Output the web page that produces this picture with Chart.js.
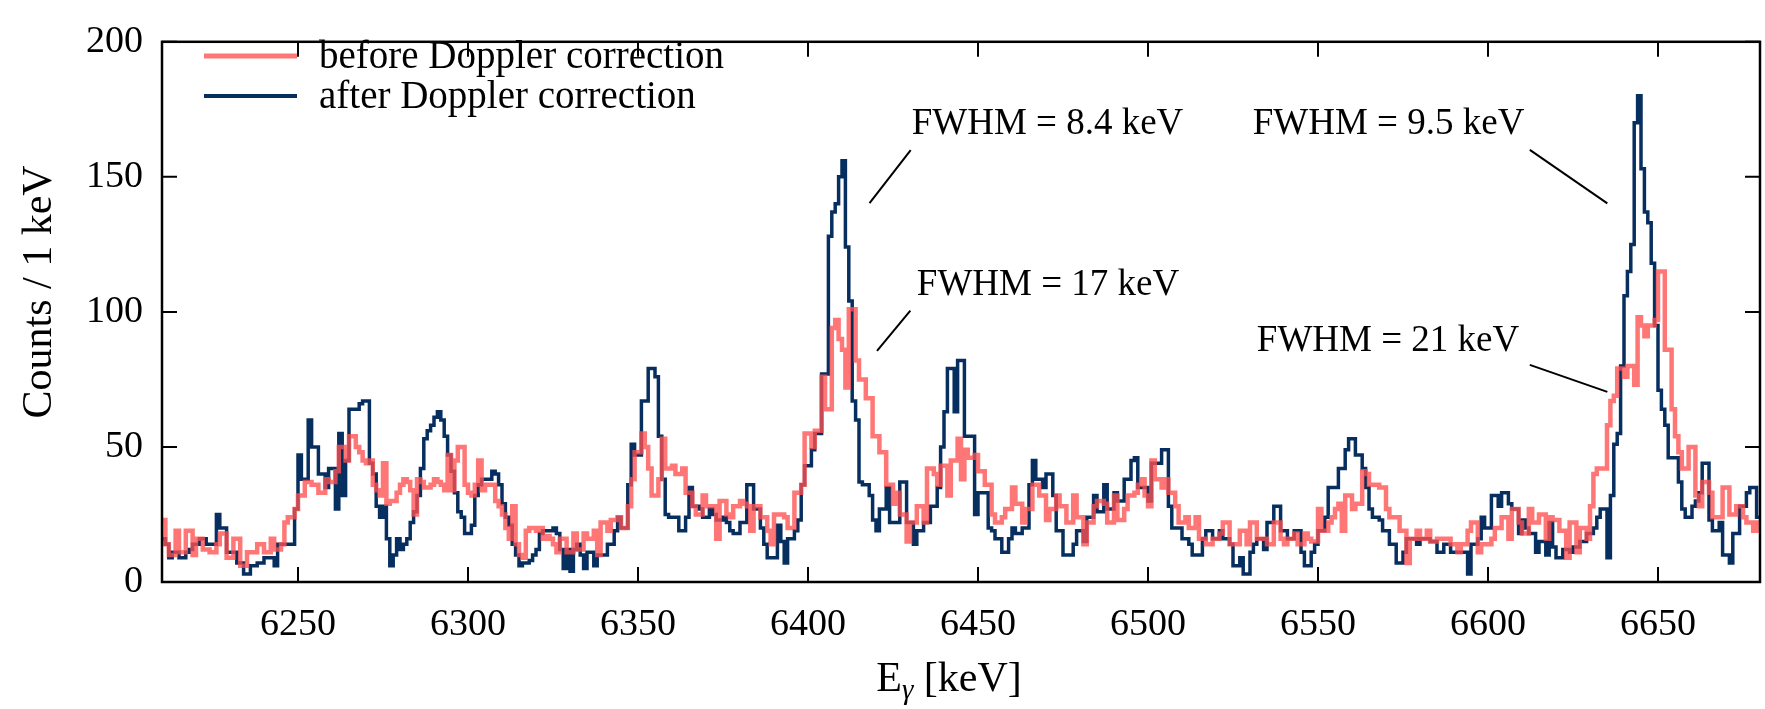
<!DOCTYPE html>
<html>
<head>
<meta charset="utf-8">
<script src="https://cdn.jsdelivr.net/npm/chart.js@4.4.1/dist/chart.umd.min.js"></script>
<style>
  html, body { margin: 0; padding: 0; background: #fff; }
  #wrap { width: 1765px; height: 709px; position: relative; }
</style>
</head>
<body>
<div id="wrap"><canvas id="spectrum"></canvas></div>
<script>
// spectrum, 1 keV bins starting at binStart
const binStart = 6210;

const beforeCounts = [
    23, 14, 10, 10, 19, 11, 11, 19, 19, 10,   // 6210
    16, 16, 12, 12, 11, 11, 14, 18, 18, 9,
    9, 16, 16, 6, 6, 11, 11, 11, 14, 14,
    11, 11, 16, 12, 12, 14, 22, 24, 24, 27,
    32, 32, 37, 37, 36, 36, 33, 33, 38, 37,   // 6250
    37, 41, 50, 50, 45, 54, 54, 50, 48, 45,
    44, 45, 36, 34, 32, 44, 29, 30, 30, 33,
    36, 38, 37, 34, 25, 38, 37, 35, 35, 36,
    38, 37, 36, 34, 47, 34, 45, 50, 50, 36,
    33, 32, 36, 45, 34, 36, 36, 36, 30, 28,   // 6300
    25, 20, 16, 28, 14, 10, 9, 19, 20, 20,
    19, 20, 16, 17, 16, 14, 11, 16, 16, 11,
    11, 18, 12, 12, 18, 16, 16, 19, 10, 22,
    22, 19, 23, 23, 24, 20, 20, 28, 38, 48,
    48, 55, 50, 42, 32, 32, 38, 53, 42, 42,   // 6350
    43, 40, 40, 42, 33, 33, 28, 25, 25, 32,
    28, 28, 28, 16, 30, 30, 25, 24, 28, 28,
    30, 29, 28, 19, 28, 28, 24, 24, 19, 14,
    25, 25, 25, 24, 20, 20, 33, 33, 36, 55,
    55, 50, 56, 56, 76, 64, 64, 94, 97, 90,   // 6400
    86, 72, 101, 101, 82, 75, 75, 68, 68, 54,
    54, 48, 48, 36, 36, 29, 33, 25, 25, 15,
    22, 22, 28, 28, 22, 42, 42, 40, 36, 43,
    43, 32, 45, 45, 53, 38, 49, 46, 46, 47,
    41, 41, 36, 36, 25, 22, 22, 24, 27, 27,   // 6450
    35, 29, 29, 22, 27, 27, 36, 36, 32, 32,
    23, 27, 27, 32, 28, 28, 22, 22, 32, 24,
    24, 14, 22, 22, 28, 30, 30, 29, 22, 22,
    32, 23, 23, 27, 32, 32, 33, 36, 38, 32,
    28, 45, 38, 38, 35, 38, 33, 33, 28, 22,   // 6500
    22, 24, 20, 20, 24, 16, 16, 14, 14, 16,
    16, 18, 22, 22, 14, 14, 14, 19, 19, 14,
    22, 22, 16, 16, 16, 14, 14, 22, 22, 16,
    14, 16, 16, 18, 14, 14, 18, 16, 15, 15,
    27, 19, 19, 22, 24, 27, 29, 19, 32, 32,   // 6550
    27, 29, 29, 41, 40, 36, 36, 36, 35, 35,
    27, 24, 24, 24, 19, 19, 7, 16, 16, 19,
    16, 16, 19, 15, 15, 16, 16, 16, 16, 14,
    14, 11, 14, 14, 19, 22, 22, 11, 14, 14,
    14, 16, 20, 20, 24, 24, 16, 27, 27, 22,   // 6600
    18, 18, 27, 22, 22, 25, 25, 16, 24, 23,
    23, 19, 19, 9, 22, 22, 11, 20, 20, 16,
    28, 40, 42, 42, 42, 58, 67, 69, 79, 79,
    76, 80, 80, 73, 98, 95, 91, 95, 95, 97,
    115, 115, 86, 86, 64, 54, 48, 42, 42, 50, // 6650
    50, 32, 28, 37, 37, 33, 24, 24, 24, 35,
    35, 25, 25, 28, 28, 24, 22, 22, 19, 22
];

const afterCounts = [
    16, 14, 9, 11, 11, 9, 9, 11, 12, 14,      // 6210
    14, 16, 16, 14, 14, 14, 25, 20, 20, 11,
    11, 11, 7, 7, 3, 3, 6, 6, 7, 7,
    9, 9, 9, 6, 14, 14, 14, 14, 14, 27,
    47, 38, 38, 60, 50, 50, 40, 40, 35, 42,   // 6250
    42, 27, 55, 32, 45, 64, 64, 64, 66, 67,
    67, 44, 40, 28, 24, 28, 16, 6, 10, 16,
    12, 14, 16, 22, 26, 32, 42, 53, 56, 58,
    61, 63, 60, 54, 47, 41, 33, 26, 24, 18,
    18, 21, 32, 36, 38, 38, 38, 41, 40, 36,   // 6300
    29, 24, 21, 14, 10, 6, 7, 7, 8, 10,
    12, 18, 19, 19, 19, 20, 18, 12, 5, 12,
    4, 12, 14, 10, 5, 11, 11, 6, 10, 10,
    10, 14, 14, 19, 24, 20, 20, 36, 51, 47,
    47, 67, 67, 79, 79, 76, 54, 38, 25, 24,   // 6350
    24, 24, 19, 19, 24, 35, 28, 28, 27, 24,
    24, 27, 25, 23, 23, 24, 22, 19, 18, 18,
    22, 22, 36, 36, 27, 27, 20, 14, 9, 9,
    9, 21, 15, 7, 16, 16, 19, 23, 36, 43,
    43, 49, 55, 55, 77, 77, 128, 137, 140, 150, // 6400
    156, 124, 104, 67, 60, 37, 36, 36, 32, 23,
    19, 27, 27, 35, 22, 22, 22, 37, 37, 22,
    22, 14, 19, 19, 22, 22, 28, 28, 35, 50,
    63, 79, 79, 63, 82, 82, 54, 54, 54, 25,
    33, 33, 33, 20, 19, 16, 16, 11, 11, 16,   // 6450
    20, 18, 18, 20, 20, 36, 45, 38, 38, 35,
    40, 40, 32, 19, 19, 10, 10, 10, 14, 19,
    19, 15, 24, 24, 32, 26, 26, 36, 27, 27,
    33, 30, 30, 38, 38, 45, 46, 35, 35, 35,
    30, 44, 44, 44, 49, 49, 28, 20, 20, 20,   // 6500
    16, 16, 14, 10, 10, 10, 16, 19, 19, 16,
    16, 19, 16, 16, 14, 6, 6, 9, 3, 3,
    11, 14, 16, 16, 12, 22, 22, 28, 28, 19,
    19, 16, 16, 19, 19, 11, 6, 6, 11, 14,
    19, 19, 24, 35, 35, 35, 42, 42, 49, 53,   // 6550
    53, 47, 47, 42, 35, 27, 24, 24, 23, 19,
    19, 14, 14, 7, 7, 11, 16, 16, 16, 14,
    16, 16, 16, 15, 15, 11, 11, 14, 14, 11,
    11, 11, 11, 11, 3, 14, 14, 16, 24, 20,
    20, 32, 32, 28, 33, 33, 29, 27, 27, 18,   // 6600
    23, 20, 18, 18, 11, 15, 15, 10, 22, 13,
    9, 9, 12, 12, 11, 13, 13, 15, 15, 18,
    18, 20, 24, 27, 27, 9, 32, 51, 55, 80,
    106, 115, 125, 170, 180, 153, 137, 133, 118, 95,
    71, 64, 58, 46, 46, 46, 37, 27, 24, 24,   // 6650
    28, 30, 33, 44, 44, 23, 19, 19, 22, 10,
    10, 7, 18, 18, 28, 28, 33, 35, 35, 24
];

const seriesLabels = ['before Doppler correction', 'after Doppler correction'];
const xTickValues = [6250, 6300, 6350, 6400, 6450, 6500, 6550, 6600, 6650];
const yTickValues = [0, 50, 100, 150, 200];
const xRange = [6210, 6680];
const yRange = [0, 200];

// FWHM labels: text anchor and leader line, in keV / counts
const fwhmNotes = [
    {text: 'FWHM = 8.4 keV', at: [6430.5, 169.5], line: [6430.2, 159.9, 6418.1, 140.3]},
    {text: 'FWHM = 17 keV',  at: [6432.0, 110.0], line: [6430.1, 100.5, 6420.3, 85.6]},
    {text: 'FWHM = 9.5 keV', at: [6530.8, 169.5], line: [6612.3, 160.0, 6635.1, 140.2]},
    {text: 'FWHM = 21 keV',  at: [6532.0, 89.0],  line: [6612.3, 80.4, 6635.1, 70.4]}
];

const RED = 'rgba(255, 80, 80, 0.78)';
const BLUE = '#062f5f';
const FONT = "'Liberation Serif', 'DejaVu Serif', serif";

function toSteps(counts) {
    let pts = counts.map((c, i) => ({x: binStart + i, y: c}));
    pts.push({x: binStart + counts.length, y: counts[counts.length - 1]});
    return pts;
}

const framePlugin = {
    id: 'frame',
    afterDraw(chart) {
        const ctx = chart.ctx;
        const a = chart.chartArea;
        const xs = chart.scales.x, ys = chart.scales.y;
        ctx.save();
        ctx.strokeStyle = '#000';
        ctx.lineWidth = 2.5;
        ctx.strokeRect(a.left, a.top, a.right - a.left, a.bottom - a.top);

        // inward ticks on all four sides
        ctx.lineWidth = 2;
        ctx.beginPath();
        xTickValues.forEach(v => {
            let px = xs.getPixelForValue(v);
            ctx.moveTo(px, a.bottom); ctx.lineTo(px, a.bottom - 15);
            ctx.moveTo(px, a.top); ctx.lineTo(px, a.top + 15);
        });
        yTickValues.forEach(v => {
            let py = ys.getPixelForValue(v);
            ctx.moveTo(a.left, py); ctx.lineTo(a.left + 15, py);
            ctx.moveTo(a.right, py); ctx.lineTo(a.right - 15, py);
        });
        ctx.stroke();

        // legend
        ctx.font = '39px ' + FONT;
        ctx.fillStyle = '#000';
        ctx.textBaseline = 'middle';
        ctx.textAlign = 'left';
        [[RED, 5, 0], [BLUE, 4, 1]].forEach(([col, w, i]) => {
            let y = 56 + i * 40;
            ctx.strokeStyle = col;
            ctx.lineWidth = w;
            ctx.beginPath();
            ctx.moveTo(a.left + 42, y); ctx.lineTo(a.left + 135, y);
            ctx.stroke();
            ctx.fillText(seriesLabels[i], a.left + 157, y + 2);
        });

        // FWHM notes
        ctx.font = '37px ' + FONT;
        ctx.strokeStyle = '#000';
        ctx.lineWidth = 2;
        fwhmNotes.forEach(n => {
            ctx.fillText(n.text, xs.getPixelForValue(n.at[0]), ys.getPixelForValue(n.at[1]));
            ctx.beginPath();
            ctx.moveTo(xs.getPixelForValue(n.line[0]), ys.getPixelForValue(n.line[1]));
            ctx.lineTo(xs.getPixelForValue(n.line[2]), ys.getPixelForValue(n.line[3]));
            ctx.stroke();
        });

        // axis titles
        ctx.font = '42px ' + FONT;
        let cx = (a.left + a.right) / 2 - 12;
        let ty = 680;
        let wE = ctx.measureText('E').width;
        ctx.font = 'italic 29px ' + FONT;
        let wG = ctx.measureText('\u03b3').width;
        ctx.font = '42px ' + FONT;
        let wK = ctx.measureText(' [keV]').width;
        let x0 = cx - (wE + wG + wK) / 2;
        ctx.fillText('E', x0, ty);
        ctx.font = 'italic 29px ' + FONT;
        ctx.fillText('\u03b3', x0 + wE, ty + 11);
        ctx.font = '42px ' + FONT;
        ctx.fillText(' [keV]', x0 + wE + wG, ty);

        ctx.translate(40, (a.top + a.bottom) / 2 - 20);
        ctx.rotate(-Math.PI / 2);
        ctx.textAlign = 'center';
        ctx.fillText('Counts / 1 keV', 0, 0);
        ctx.restore();
    }
};

const ctx = document.getElementById('spectrum').getContext('2d');
window.chart = new Chart(ctx, {
    type: 'line',
    data: {
        datasets: [{
            label: seriesLabels[0],
            data: toSteps(beforeCounts),
            borderColor: RED,
            borderWidth: 4.5,
            stepped: true,
            pointRadius: 0,
            fill: false,
            order: 0
        }, {
            label: seriesLabels[1],
            data: toSteps(afterCounts),
            borderColor: BLUE,
            borderWidth: 3.5,
            stepped: true,
            pointRadius: 0,
            fill: false,
            order: 1
        }]
    },
    options: {
        responsive: true,
        maintainAspectRatio: false,
        animation: false,
        events: [],
        layout: { padding: { top: 20, right: 5, left: 0, bottom: 0 } },
        plugins: {
            legend: { display: false },
            tooltip: { enabled: false }
        },
        scales: {
            x: {
                type: 'linear',
                min: xRange[0],
                max: xRange[1],
                afterBuildTicks: s => { s.ticks = xTickValues.map(v => ({value: v})); },
                afterFit: s => { s.height = 127; },
                grid: { display: false, drawTicks: false },
                border: { display: false },
                ticks: {
                    callback: v => String(v),
                    font: { family: FONT, size: 38 },
                    color: '#000',
                    padding: 20,
                    maxRotation: 0,
                    autoSkip: false
                }
            },
            y: {
                min: yRange[0],
                max: yRange[1],
                afterBuildTicks: s => { s.ticks = yTickValues.map(v => ({value: v})); },
                afterFit: s => { s.width = 162; },
                grid: { display: false, drawTicks: false },
                border: { display: false },
                ticks: {
                    callback: v => String(v),
                    font: { family: FONT, size: 38 },
                    color: '#000',
                    padding: 19
                }
            }
        }
    },
    plugins: [framePlugin]
});
</script>
</body>
</html>
